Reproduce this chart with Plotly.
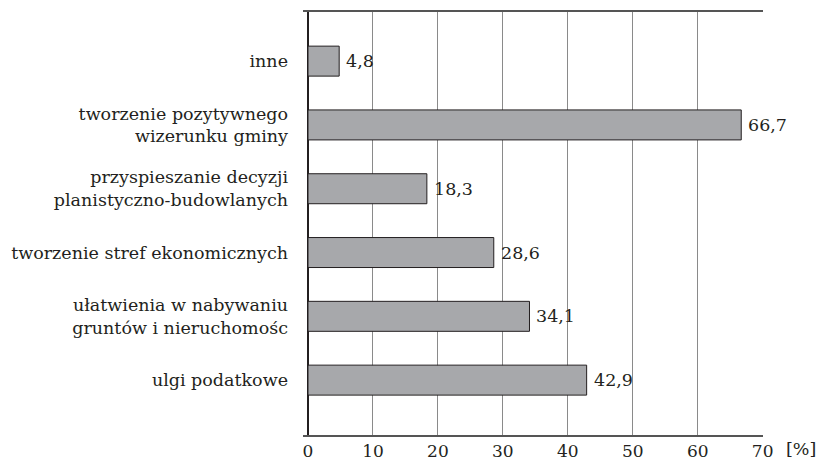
import plotly.graph_objects as go

# Survey categories (bottom to top) and their shares in percent
categories = [
    "ulgi podatkowe",
    "ułatwienia w nabywaniu<br>gruntów i nieruchomośc",
    "tworzenie stref ekonomicznych",
    "przyspieszanie decyzji<br>planistyczno-budowlanych",
    "tworzenie pozytywnego<br>wizerunku gminy",
    "inne",
]
values = [42.9, 34.1, 28.6, 18.3, 66.7, 4.8]
x_ticks = [0, 10, 20, 30, 40, 50, 60, 70]
x_unit = "[%]"

FONT = "DejaVu Serif"
SIZE = 17.5
TEXT = "#231f20"

fig = go.Figure(
    go.Bar(
        x=values,
        y=categories,
        orientation="h",
        width=0.47,
        marker=dict(color="#a7a8ab", line=dict(color="#231f20", width=1)),
        hoverinfo="skip",
    )
)

# value labels just right of each bar, decimal comma
for v, c in zip(values, categories):
    fig.add_annotation(
        x=v, y=c, xref="x", yref="y",
        text=f"{v:.1f}".replace(".", ","),
        showarrow=False, xanchor="left", yanchor="middle", xshift=5,
        font=dict(family=FONT, size=SIZE, color=TEXT),
    )

# unit label next to the last tick
fig.add_annotation(
    x=x_ticks[-1], y=0, xref="x", yref="paper",
    text=x_unit, showarrow=False, xanchor="left", yanchor="top",
    xshift=21, yshift=-2,
    font=dict(family=FONT, size=SIZE, color=TEXT),
)

fig.update_layout(
    width=819, height=461,
    margin=dict(l=303, r=56, t=12, b=26, autoexpand=False),
    paper_bgcolor="white", plot_bgcolor="white",
    showlegend=False,
    font=dict(family=FONT, size=SIZE, color=TEXT),
    bargap=0.5,
)

fig.update_xaxes(
    range=[-0.77, 70.05],
    tickvals=x_ticks,
    ticktext=[str(t) for t in x_ticks],
    showgrid=True, gridcolor="#8a8a8a", gridwidth=1.3,
    zeroline=True, zerolinecolor="#231f20", zerolinewidth=1.6,
    showline=True, mirror=True, linecolor="#555555", linewidth=1.6,
    ticks="", ticklabelstandoff=0, automargin=False,
    tickfont=dict(family=FONT, size=17, color=TEXT),
)

fig.update_yaxes(
    range=[-0.86, 5.77],
    showgrid=False, zeroline=False, showline=False,
    ticks="", ticklabelstandoff=14, automargin=False,
    tickfont=dict(family=FONT, size=SIZE, color=TEXT),
)

fig.write_html("out.html")
